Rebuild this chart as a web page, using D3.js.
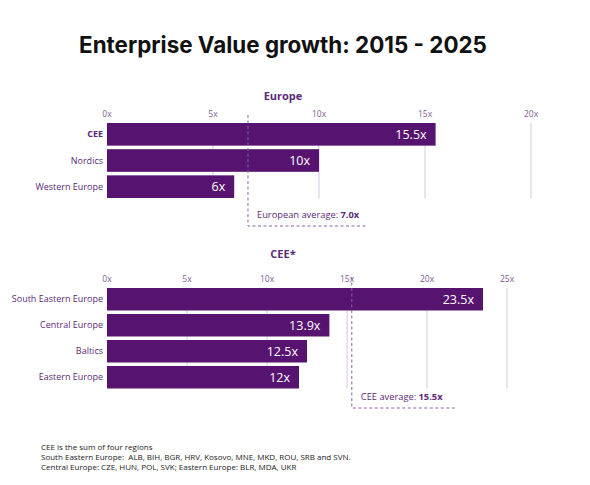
<!DOCTYPE html>
<html>
<head>
<meta charset="utf-8">
<script src="https://cdn.jsdelivr.net/npm/d3@7"></script>
<style>
  body { margin: 0; background: #fff; }
  svg { display: block; }
</style>
</head>
<body>
<svg id="chart" width="590" height="485"></svg>
<script>
// Europe panel
const europeCats = ['CEE', 'Nordics', 'Western Europe'];
const europeVals = [15.5, 10, 6];
const europeTicks = [0, 5, 10, 15, 20];
const europeAvgLabel = '7.0x';
const europeAvgPos = 6.65;

// CEE panel
const ceeCats = ['South Eastern Europe', 'Central Europe', 'Baltics', 'Eastern Europe'];
const ceeVals = [23.5, 13.9, 12.5, 12];
const ceeTicks = [0, 5, 10, 15, 20, 25];
const ceeAvgLabel = '15.5x';
const ceeAvgPos = 15.3;

const footnotes = [
    'CEE is the sum of four regions',
    'South Eastern Europe:  ALB, BIH, BGR, HRV, Kosovo, MNE, MKD, ROU, SRB and SVN.',
    'Central Europe: CZE, HUN, POL, SVK; Eastern Europe: BLR, MDA, UKR'
];

const BAR = '#561470';
const TXT = '#5b2a78';
const TICK = '#7d5b94';
const GRID = '#d6c7e0';
const FONT = '"Open Sans", sans-serif';

const svg = d3.select('#chart');

svg.append('text')
    .attr('x', 283).attr('y', 53)
    .attr('text-anchor', 'middle')
    .attr('font-family', 'Inter, sans-serif')
    .attr('font-weight', 700)
    .attr('font-size', 22.4)
    .attr('fill', '#111')
    .text('Enterprise Value growth: 2015 - 2025');

function panel(opts) {
    const g = svg.append('g');
    const x = d3.scaleLinear().domain(opts.domain).range([107, opts.right]);
    const y = d3.scaleBand().domain(opts.cats).range(opts.yRange).paddingInner(0.135);

    g.append('text')
        .attr('x', 283).attr('y', opts.titleY)
        .attr('text-anchor', 'middle')
        .attr('font-family', FONT).attr('font-weight', 700).attr('font-size', 11)
        .attr('fill', TXT)
        .text(opts.title);

    // gridlines
    g.append('g').selectAll('line')
        .data(opts.ticks.slice(1))
        .join('line')
        .attr('x1', d => x(d)).attr('x2', d => x(d))
        .attr('y1', opts.yRange[0]).attr('y2', opts.yRange[1])
        .attr('stroke', GRID).attr('stroke-width', 1);

    // tick labels
    g.append('g').selectAll('text')
        .data(opts.ticks)
        .join('text')
        .attr('x', d => x(d)).attr('y', opts.tickY)
        .attr('text-anchor', 'middle')
        .attr('font-family', FONT).attr('font-size', 8.5)
        .attr('fill', TICK)
        .text(d => d + 'x');

    const rows = opts.cats.map((c, i) => ({ cat: c, val: opts.vals[i] }));

    g.append('g').selectAll('rect')
        .data(rows)
        .join('rect')
        .attr('x', x(0)).attr('y', d => y(d.cat))
        .attr('width', d => x(d.val) - x(0))
        .attr('height', y.bandwidth())
        .attr('fill', BAR);

    g.append('g').selectAll('text')
        .data(rows)
        .join('text')
        .attr('x', d => x(d.val) - 9)
        .attr('y', d => y(d.cat) + y.bandwidth() / 2)
        .attr('dy', '0.36em')
        .attr('text-anchor', 'end')
        .attr('font-family', FONT).attr('font-size', 12.5)
        .attr('fill', '#fff')
        .text(d => d.val + 'x');

    g.append('g').selectAll('text')
        .data(rows)
        .join('text')
        .attr('x', 103)
        .attr('y', d => y(d.cat) + y.bandwidth() / 2)
        .attr('dy', '0.35em')
        .attr('text-anchor', 'end')
        .attr('font-family', FONT).attr('font-size', 9)
        .attr('font-weight', (d, i) => opts.boldFirst && i === 0 ? 700 : 400)
        .attr('fill', TXT)
        .text(d => d.cat);

    // average marker
    const ax = x(opts.avgPos);
    g.append('path')
        .attr('d', `M${ax},${opts.avgTop}V${opts.avgBottom}H${opts.avgRight}`)
        .attr('fill', 'none')
        .attr('stroke', '#8a62a0').attr('stroke-width', 1)
        .attr('stroke-dasharray', '3,2.5');

    const lbl = g.append('text')
        .attr('x', ax + 9).attr('y', opts.avgBottom - 8)
        .attr('font-family', FONT).attr('font-size', 9.3)
        .attr('fill', TXT);
    lbl.append('tspan').text(opts.avgText + ': ');
    lbl.append('tspan').attr('font-weight', 700).text(opts.avgLabel);
}

panel({
    title: 'Europe', titleY: 100,
    cats: europeCats, vals: europeVals, ticks: europeTicks,
    domain: [0, 20], right: 531, yRange: [123, 198], tickY: 117,
    boldFirst: true,
    avgPos: europeAvgPos, avgLabel: europeAvgLabel, avgText: 'European average',
    avgTop: 115, avgBottom: 226, avgRight: 368
});

panel({
    title: 'CEE*', titleY: 258,
    cats: ceeCats, vals: ceeVals, ticks: ceeTicks,
    domain: [0, 25], right: 507, yRange: [288, 388.5], tickY: 282,
    boldFirst: false,
    avgPos: ceeAvgPos, avgLabel: ceeAvgLabel, avgText: 'CEE average',
    avgTop: 277, avgBottom: 408, avgRight: 457
});

svg.append('g').selectAll('text')
    .data(footnotes)
    .join('text')
    .attr('x', 41)
    .attr('y', (d, i) => 449.5 + i * 10)
    .attr('font-family', FONT).attr('font-size', 8)
    .attr('fill', '#222')
    .style('white-space', 'pre')
    .text(d => d);
</script>
</body>
</html>
